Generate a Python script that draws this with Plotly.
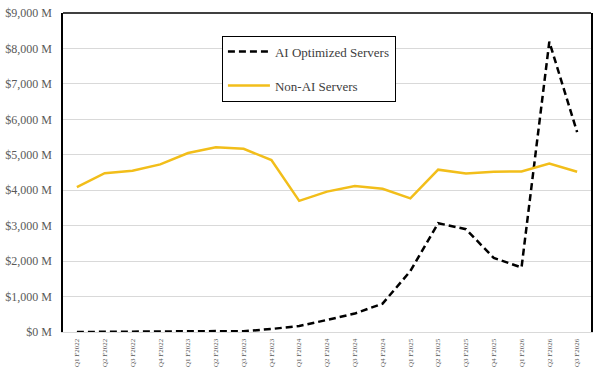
import plotly.graph_objects as go

quarters = ["Q1 F2022", "Q2 F2022", "Q3 F2022", "Q4 F2022",
            "Q1 F2023", "Q2 F2023", "Q3 F2023", "Q4 F2023",
            "Q1 F2024", "Q2 F2024", "Q3 F2024", "Q4 F2024",
            "Q1 F2025", "Q2 F2025", "Q3 F2025", "Q4 F2025",
            "Q1 F2026", "Q2 F2026", "Q3 F2026"]

ai_servers = [0, 0, 0, 10, 20, 25, 20, 85, 170, 340, 520, 800,
              1720, 3070, 2900, 2090, 1820, 8190, 5640]

non_ai_servers = [4090, 4480, 4550, 4730, 5050, 5210, 5170, 4850, 3700,
                  3960, 4120, 4040, 3770, 4580, 4470, 4520, 4530, 4750, 4520]

y_ticks = list(range(0, 9001, 1000))
y_labels = [f"${v:,} M" for v in y_ticks]

fig = go.Figure()
fig.add_trace(go.Scatter(x=quarters, y=ai_servers, mode="lines",
                         name="AI Optimized Servers", legendgroup="ai",
                         line=dict(color="#000000", width=2.5, dash="7px,4px")))
fig.add_trace(go.Scatter(x=quarters, y=non_ai_servers, mode="lines",
                         name="Non-AI Servers", legendgroup="non",
                         line=dict(color="#F2BE1A", width=2.5)))

fig.update_layout(
    width=602, height=385,
    margin=dict(l=63, r=11, t=13, b=53, autoexpand=False),
    paper_bgcolor="white", plot_bgcolor="white",
    font=dict(family="Liberation Serif", color="#404040"),
    showlegend=True,
    legend=dict(x=0.301, y=0.929, xanchor="left", yanchor="top",
                bordercolor="#000000", borderwidth=1, bgcolor="white",
                font=dict(size=13, color="#404040"),
                traceorder="grouped", tracegroupgap=14, itemwidth=42,
                entrywidthmode="pixels", entrywidth=150),
    xaxis=dict(type="category", categoryorder="array", categoryarray=quarters,
               range=[-0.5, 18.5], tickangle=-90, automargin=False,
               tickfont=dict(size=7, color="#595959"),
               showgrid=False, showline=True, linecolor="#d9d9d9",
               linewidth=1, ticks="", ticklabelstandoff=3),
    yaxis=dict(range=[0, 9000], tickvals=y_ticks, ticktext=y_labels,
               automargin=False,
               tickfont=dict(size=12, color="#595959"),
               showgrid=True, gridcolor="#d9d9d9", gridwidth=1,
               zeroline=False,
               showline=True, linecolor="#000000", linewidth=1.5, mirror=True,
               ticks="", ticklabelstandoff=7),
    shapes=[dict(type="line", xref="paper", yref="paper", x0=0, x1=1, y0=1, y1=1,
                 line=dict(color="#000000", width=1.5))],
)

fig.write_html("out.html", config={"displayModeBar": False},
               post_script="document.body.style.margin='0';document.body.style.overflow='hidden';")
